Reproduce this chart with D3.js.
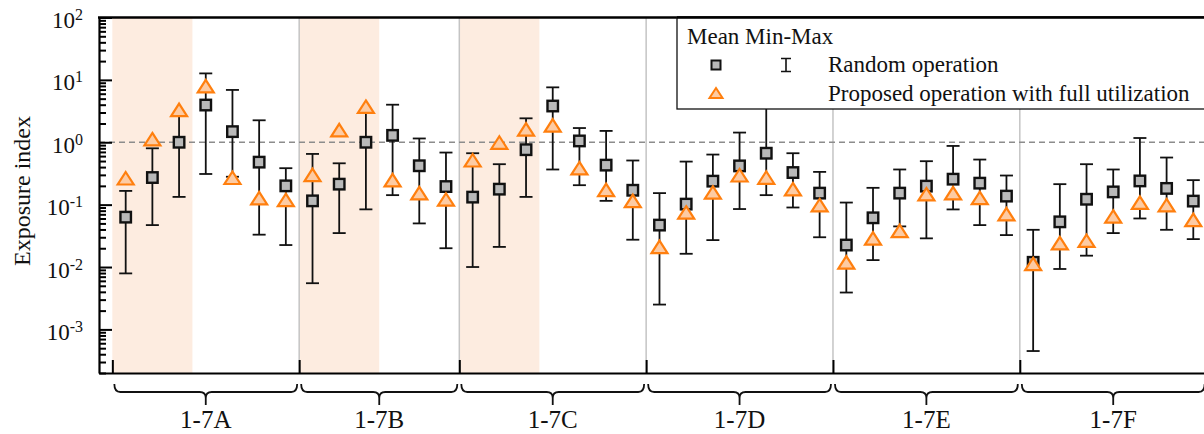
<!DOCTYPE html>
<html>
<head>
<meta charset="utf-8">
<script src="https://cdn.jsdelivr.net/npm/d3@7"></script>
<style>
  body { margin: 0; background: #fff; }
  svg { display: block; font-family: "Liberation Serif", "Times New Roman", serif; }
</style>
</head>
<body>
<div id="chart-area"></div>
<script>
// Groups and number of cases in each
var groups = ["1-7A", "1-7B", "1-7C", "1-7D", "1-7E", "1-7F"];
var groupSizes = [7, 6, 7, 7, 7, 7];
var shadedGroups = ["1-7A", "1-7B", "1-7C"];
var shadedCount = 3;

// Random operation: mean, min, max
var randomMean = [0.063, 0.272, 1.0, 3.95, 1.48, 0.48, 0.2,
    0.115, 0.213, 1.0, 1.29, 0.42, 0.195,
    0.132, 0.177, 0.76, 3.81, 1.05, 0.43, 0.17,
    0.047, 0.102, 0.238, 0.418, 0.667, 0.327, 0.153,
    0.0225, 0.0615, 0.153, 0.198, 0.256, 0.221, 0.137,
    0.0119, 0.053, 0.122, 0.16, 0.24, 0.182, 0.114];
var randomMin = [0.0079, 0.047, 0.133, 0.31, 0.28, 0.033, 0.0225,
    0.0055, 0.035, 0.084, 0.142, 0.05, 0.020,
    0.01, 0.021, 0.133, 0.366, 0.205, 0.115, 0.0274,
    0.0025, 0.0163, 0.027, 0.085, 0.142, 0.090, 0.030,
    0.0039, 0.0129, 0.0448, 0.0288, 0.0838, 0.047, 0.0325,
    0.00045, 0.0093, 0.0152, 0.035, 0.060, 0.0395, 0.028];
var randomMax = [0.166, 0.80, 2.8, 12.7, 6.9, 2.25, 0.384,
    0.65, 0.46, 3.0, 4.0, 1.15, 0.684,
    0.667, 0.445, 2.42, 7.59, 1.69, 1.52, 0.51,
    0.153, 0.49, 0.635, 1.43, 4.5, 0.667, 0.335,
    0.108, 0.186, 0.366, 0.497, 0.873, 0.528, 0.293,
    0.0395, 0.213, 0.445, 0.366, 1.17, 0.569, 0.247];

// Proposed operation with full utilization: mean
var proposedMean = [0.265, 1.12, 3.3, 7.95, 0.27, 0.127, 0.119,
    0.30, 1.57, 3.72, 0.247, 0.153, 0.121,
    0.515, 0.99, 1.61, 1.87, 0.384, 0.173, 0.115,
    0.0211, 0.075, 0.157, 0.296, 0.272, 0.177, 0.098,
    0.0119, 0.0288, 0.038, 0.147, 0.153, 0.128, 0.0705,
    0.0112, 0.0242, 0.0264, 0.0647, 0.108, 0.098, 0.057];

var yTickValues = [1e-3, 1e-2, 1e-1, 1, 10, 100];
var yTickExp = ["-3", "-2", "-1", "0", "1", "2"];

var W = 1204, H = 434;
var margin = { left: 99, top: 17.5, bottom: 61 };
var unit = 26.69;
var plotBottom = H - margin.bottom; // 373

var svg = d3.select("#chart-area").append("svg")
    .attr("width", W)
    .attr("height", H);

var total = d3.sum(groupSizes);

// X Scale (case index)
var x = d3.scaleLinear()
    .domain([-1, total])
    .range([margin.left, margin.left + (total + 1) * unit]);

// Y Scale (log)
var y = d3.scaleLog()
    .domain([2e-4, 100])
    .range([plotBottom, margin.top]);

// group start / end positions
var starts = [];
var acc = 0;
groupSizes.forEach(function(n){
    starts.push(acc);
    acc += n;
});
var groupInfo = groups.map(function(gname, i){
    return { name: gname, start: starts[i] - 0.5, end: starts[i] + groupSizes[i] - 0.5, first: starts[i] };
});

// Shaded regions
svg.selectAll("rect.shade")
    .data(groupInfo.filter(function(d){ return shadedGroups.indexOf(d.name) >= 0; }))
    .enter().append("rect")
    .attr("class", "shade")
    .attr("x", function(d){ return x(d.start); })
    .attr("width", function(d){ return x(d.start + shadedCount) - x(d.start); })
    .attr("y", margin.top)
    .attr("height", plotBottom - margin.top)
    .attr("fill", "#fdece0");

// Group dividers
svg.selectAll("line.divider")
    .data(groupInfo.slice(1))
    .enter().append("line")
    .attr("class", "divider")
    .attr("x1", function(d){ return x(d.start); })
    .attr("x2", function(d){ return x(d.start); })
    .attr("y1", margin.top)
    .attr("y2", plotBottom)
    .attr("stroke", "#c4c4c4")
    .attr("stroke-width", 1.5);

// Reference line at 1
svg.append("line")
    .attr("x1", margin.left)
    .attr("x2", W)
    .attr("y1", y(1))
    .attr("y2", y(1))
    .attr("stroke", "#8c8c8c")
    .attr("stroke-width", 1.6)
    .attr("stroke-dasharray", "6,4");

var idx = d3.range(total);

// Whiskers
var whisk = svg.append("g")
    .attr("stroke", "#111")
    .attr("stroke-width", 1.8)
    .attr("fill", "none");

whisk.selectAll("line.stem")
    .data(idx)
    .enter().append("line")
    .attr("x1", function(i){ return x(i); })
    .attr("x2", function(i){ return x(i); })
    .attr("y1", function(i){ return y(randomMin[i]); })
    .attr("y2", function(i){ return y(randomMax[i]); });

whisk.selectAll("line.capTop")
    .data(idx)
    .enter().append("line")
    .attr("x1", function(i){ return x(i) - 6.5; })
    .attr("x2", function(i){ return x(i) + 6.5; })
    .attr("y1", function(i){ return y(randomMax[i]); })
    .attr("y2", function(i){ return y(randomMax[i]); });

whisk.selectAll("line.capBot")
    .data(idx)
    .enter().append("line")
    .attr("x1", function(i){ return x(i) - 6.5; })
    .attr("x2", function(i){ return x(i) + 6.5; })
    .attr("y1", function(i){ return y(randomMin[i]); })
    .attr("y2", function(i){ return y(randomMin[i]); });

// Squares (random operation mean)
var sq = 10.5;
svg.selectAll("rect.mean")
    .data(idx)
    .enter().append("rect")
    .attr("class", "mean")
    .attr("x", function(i){ return x(i) - sq / 2; })
    .attr("y", function(i){ return y(randomMean[i]) - sq / 2; })
    .attr("width", sq)
    .attr("height", sq)
    .attr("fill", "#b9b9b9")
    .attr("stroke", "#111")
    .attr("stroke-width", 2.4);

// Triangles (proposed operation)
function triPath(w, h) {
    return "M0," + (-h / 2) + "L" + (w / 2) + "," + (h / 2) + "L" + (-w / 2) + "," + (h / 2) + "Z";
}
svg.selectAll("path.prop")
    .data(idx)
    .enter().append("path")
    .attr("class", "prop")
    .attr("d", triPath(16, 12.5))
    .attr("transform", function(i){ return "translate(" + x(i) + "," + y(proposedMean[i]) + ")"; })
    .attr("fill", "#fdcba3")
    .attr("stroke", "#ff7f0e")
    .attr("stroke-width", 2.2)
    .attr("stroke-linejoin", "miter");

// Y Axis (major)
var yAxisCall = d3.axisLeft(y)
    .tickValues(yTickValues)
    .tickSize(-13)
    .tickSizeOuter(0)
    .tickFormat("");

var yAxisGroup = svg.append("g")
    .attr("class", "y axis")
    .attr("transform", "translate(" + margin.left + ",0)")
    .call(yAxisCall);

// Y Axis (minor)
var minorTicks = [];
[-4, -3, -2, -1, 0, 1].forEach(function(e){
    for (var k = 2; k <= 9; k++) {
        var v = k * Math.pow(10, e);
        if (v >= 2e-4 && v < 100) minorTicks.push(v);
    }
});
svg.append("g")
    .attr("transform", "translate(" + margin.left + ",0)")
    .call(d3.axisLeft(y).tickValues(minorTicks).tickSize(-7).tickSizeOuter(0).tickFormat(""))
    .call(function(g){ g.select(".domain").remove(); });

svg.selectAll(".tick line").attr("stroke", "#000").attr("stroke-width", 2);
yAxisGroup.select(".domain").attr("stroke", "#000").attr("stroke-width", 2.2);

// Tick labels with superscripts
var labels = svg.append("g").attr("font-size", "23px").attr("fill", "#111");
yTickValues.forEach(function(v, i){
    var t = labels.append("text")
        .attr("x", margin.left - 16)
        .attr("y", y(v) + 10.5)
        .attr("text-anchor", "end");
    t.append("tspan").text("10");
    t.append("tspan")
        .attr("font-size", "16px")
        .attr("dy", -8)
        .text(yTickExp[i]);
});

// Y Label
svg.append("text")
    .attr("transform", "translate(30," + 191 + ") rotate(-90)")
    .attr("text-anchor", "middle")
    .attr("font-size", "24px")
    .attr("fill", "#111")
    .text("Exposure index");

// X Axis
var xAxisCall = d3.axisBottom(x)
    .tickValues(groupInfo.map(function(d){ return d.start; }).concat([total - 0.5]))
    .tickSize(-13)
    .tickSizeOuter(0)
    .tickFormat("");

var xAxisGroup = svg.append("g")
    .attr("class", "x axis")
    .attr("transform", "translate(0," + plotBottom + ")")
    .call(xAxisCall);
xAxisGroup.selectAll(".tick line").attr("stroke", "#000").attr("stroke-width", 2);
xAxisGroup.select(".domain").attr("stroke", "#000").attr("stroke-width", 2.2);

// Top border
svg.append("line")
    .attr("x1", margin.left - 1)
    .attr("x2", W)
    .attr("y1", margin.top)
    .attr("y2", margin.top)
    .attr("stroke", "#000")
    .attr("stroke-width", 2.4);

// Braces under groups
function bracePath(x0, x1) {
    var yTop = 384, yH = 392, yTip = 405, r = 6;
    var xm = (x0 + x1) / 2;
    return "M" + x0 + "," + yTop +
        "Q" + x0 + "," + yH + " " + (x0 + r) + "," + yH +
        "L" + (xm - r) + "," + yH +
        "Q" + xm + "," + yH + " " + xm + "," + (yH + r) +
        "L" + xm + "," + yTip +
        "M" + x1 + "," + yTop +
        "Q" + x1 + "," + yH + " " + (x1 - r) + "," + yH +
        "L" + (xm + r) + "," + yH +
        "Q" + xm + "," + yH + " " + xm + "," + (yH + r);
}
svg.selectAll("path.brace")
    .data(groupInfo)
    .enter().append("path")
    .attr("class", "brace")
    .attr("d", function(d){ return bracePath(x(d.start) + 2, x(d.end) - 2); })
    .attr("fill", "none")
    .attr("stroke", "#111")
    .attr("stroke-width", 1.8);

svg.selectAll("text.group")
    .data(groupInfo)
    .enter().append("text")
    .attr("class", "group")
    .attr("x", function(d){ return (x(d.start) + x(d.end)) / 2; })
    .attr("y", 428)
    .attr("text-anchor", "middle")
    .attr("font-size", "25px")
    .attr("fill", "#111")
    .text(function(d){ return d.name; });

// Legend
var legend = svg.append("g");
legend.append("rect")
    .attr("x", 677)
    .attr("y", margin.top)
    .attr("width", 600)
    .attr("height", 109 - margin.top)
    .attr("fill", "#fff")
    .attr("stroke", "#111")
    .attr("stroke-width", 1.3);
legend.append("line")
    .attr("x1", 677).attr("x2", W)
    .attr("y1", margin.top).attr("y2", margin.top)
    .attr("stroke", "#000").attr("stroke-width", 2.4);

legend.append("text")
    .attr("x", 687).attr("y", 44)
    .attr("font-size", "23px").attr("fill", "#111")
    .text("Mean Min-Max");
legend.append("rect")
    .attr("x", 716 - 4.5).attr("y", 65 - 4.5)
    .attr("width", 9).attr("height", 9)
    .attr("fill", "#b9b9b9").attr("stroke", "#111").attr("stroke-width", 2);
legend.append("path")
    .attr("d", "M781,58.5L791,58.5M786,58.5L786,71.5M781,71.5L791,71.5")
    .attr("stroke", "#111").attr("stroke-width", 1.6).attr("fill", "none");
legend.append("text")
    .attr("x", 828).attr("y", 72)
    .attr("font-size", "23px").attr("fill", "#111")
    .text("Random operation");
legend.append("path")
    .attr("d", triPath(13, 10))
    .attr("transform", "translate(716,93)")
    .attr("fill", "#fdcba3").attr("stroke", "#ff7f0e").attr("stroke-width", 2);
legend.append("text")
    .attr("x", 828).attr("y", 101)
    .attr("font-size", "23px").attr("fill", "#111")
    .text("Proposed operation with full utilization");
</script>
</body>
</html>
